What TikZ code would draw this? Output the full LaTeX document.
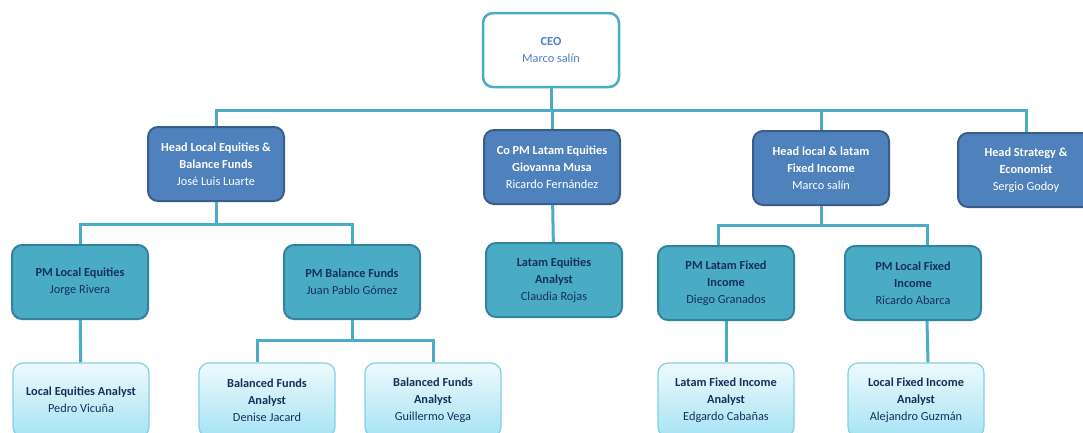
\documentclass[tikz,border=0pt]{standalone}
\usepackage{fontspec}
\setmainfont{Carlito}
\usetikzlibrary{shapes}

\definecolor{ceoline}{HTML}{4BACC6}
\definecolor{ceotext}{HTML}{4F7EC4}
\definecolor{headfill}{HTML}{4F81BD}
\definecolor{headline}{HTML}{385D8A}
\definecolor{pmfill}{HTML}{4AABC5}
\definecolor{pmline}{HTML}{31849B}
\definecolor{pmtext}{HTML}{17305E}
\definecolor{antop}{HTML}{EEFAFD}
\definecolor{anbottom}{HTML}{A6E3F3}
\definecolor{anline}{HTML}{86CFE2}
\definecolor{linkcol}{HTML}{4BACC6}

\begin{document}
\begin{tikzpicture}[x=1pt,y=1pt]
	\tikzstyle{every node}+=[inner sep=0pt, align=center, rounded corners=10pt,
		minimum width=136pt, minimum height=74pt, font=\fontsize{12.3}{17}\selectfont]
	\tikzstyle{ceobox}=[draw=ceoline, fill=white, line width=2.5pt, text=ceotext]
	\tikzstyle{headbox}=[draw=headline, fill=headfill, line width=2pt, text=white]
	\tikzstyle{pmbox}=[draw=pmline, fill=pmfill, line width=2pt, text=pmtext]
	\tikzstyle{anbox}=[draw=anline, top color=antop, bottom color=anbottom, line width=1.2pt, text=pmtext]
	\tikzstyle{link}=[draw=linkcol, line width=3pt]
	\useasboundingbox (0,0) rectangle (1083,-432);
	\clip (0,0) rectangle (1083,-432);
	% top
	\node [ceobox] (ceo) at (551,-50) {\textbf{CEO}\\Marco salín};
	% heads
	\node [headbox] (hle) at (216,-164) {\textbf{Head Local Equities \&}\\\textbf{Balance Funds}\\José Luis Luarte};
	\node [headbox] (copm) at (552,-167) {\textbf{Co PM Latam Equities}\\\textbf{Giovanna Musa}\\Ricardo Fernández};
	\node [headbox] (hfi) at (821,-168) {\textbf{Head local \& latam}\\\textbf{Fixed\ Income}\\Marco salín};
	\node [headbox] (hse) at (1026,-170) {\textbf{Head Strategy \&}\\\textbf{Economist}\\Sergio Godoy};
	% portfolio managers
	\node [pmbox] (pmle) at (80,-282) {\textbf{PM Local Equities}\\Jorge Rivera};
	\node [pmbox] (pmbf) at (352,-282) {\textbf{PM Balance Funds}\\Juan Pablo Gómez};
	\node [pmbox] (lea) at (554,-280) {\textbf{Latam Equities}\\\textbf{Analyst}\\Claudia Rojas};
	\node [pmbox] (pmlfi) at (726,-283) {\textbf{PM Latam Fixed}\\\textbf{Income}\\Diego Granados};
	\node [pmbox] (pmcfi) at (913,-283) {\textbf{PM Local Fixed}\\\textbf{Income}\\Ricardo Abarca};
	% analysts
	\node [anbox] (loca) at (81,-400) {\textbf{Local Equities Analyst}\\Pedro Vicuña};
	\node [anbox] (bfa) at (267,-400) {\textbf{Balanced Funds}\\\textbf{Analyst}\\Denise\ Jacard};
	\node [anbox] (bfb) at (433,-400) {\textbf{Balanced Funds}\\\textbf{Analyst}\\Guillermo Vega};
	\node [anbox] (lfa) at (726,-400) {\textbf{Latam\ Fixed Income}\\\textbf{Analyst}\\Edgardo Cabañas};
	\node [anbox] (cfa) at (916,-400) {\textbf{Local Fixed Income}\\\textbf{Analyst}\\Alejandro Guzmán};
	% connectors
	\coordinate (bus1) at (551,-110);
	\coordinate (bus2) at (216,-224);
	\coordinate (bus3) at (352,-340);
	\coordinate (bus4) at (821,-225);
	\draw [link] (ceo) -- (bus1);
	\draw [link] (hle) -- (hle |- bus1) -- (hse |- bus1) -- (hse);
	\draw [link] (copm) -- (copm |- bus1);
	\draw [link] (hfi) -- (hfi |- bus1);
	\draw [link] (hle) -- (bus2);
	\draw [link] (pmle) -- (pmle |- bus2) -- (pmbf |- bus2) -- (pmbf);
	\draw [link] (copm) -- (lea);
	\draw [link] (pmle) -- (loca);
	\draw [link] (pmbf) -- (bus3);
	\draw [link] ([xshift=-10pt]bfa.north) -- ([xshift=-10pt]bfa.north |- bus3) -- (bfb |- bus3) -- (bfb);
	\draw [link] (hfi) -- (bus4);
	\draw [link] ([xshift=-8pt]pmlfi.north) -- ([xshift=-8pt]pmlfi.north |- bus4) -- ([xshift=14pt]pmcfi.north |- bus4) -- ([xshift=14pt]pmcfi.north);
	\draw [link] (pmlfi) -- (lfa);
	\draw [link] ([xshift=14pt]pmcfi.south) -- ([xshift=12pt]cfa.north);
\end{tikzpicture}
\end{document}
